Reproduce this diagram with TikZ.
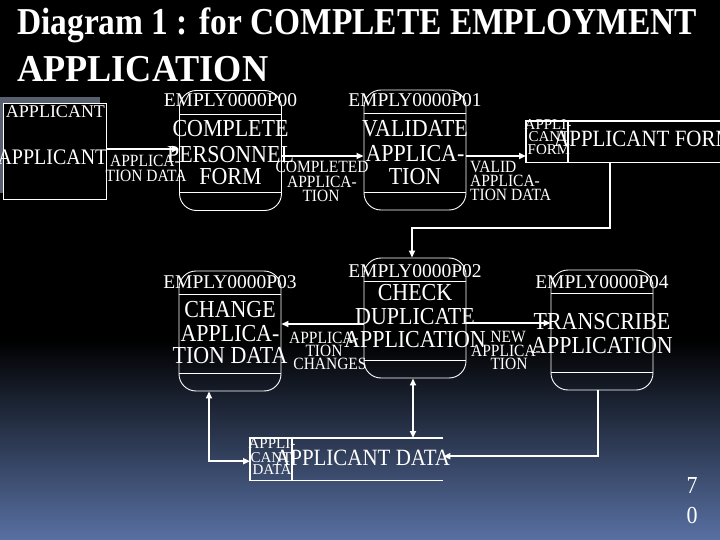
\documentclass[tikz,border=0pt]{standalone}
\usepackage{fontspec}
\setmainfont{Liberation Serif}
\newfontfamily\narrowserif{Liberation Serif}[FakeStretch=0.9]
\usepackage{graphicx}
\usetikzlibrary{arrows.meta}
\definecolor{bgbot}{RGB}{88,112,162}
\definecolor{shadowgray}{RGB}{88,96,112}
\begin{document}
\begin{tikzpicture}[x=1pt,y=-1pt,
  proc/.style={draw=white, line width=0.9pt, rounded corners=17pt, minimum width=102pt, minimum height=120pt, inner sep=0pt},
  entity/.style={draw=white, fill=black, line width=0.9pt, minimum width=103pt, minimum height=96pt, inner sep=0pt},
  store/.style={draw=none, inner sep=0pt, anchor=north west},
  divider/.style={draw=white, line width=0.9pt},
  storeline/.style={draw=white, line width=1.3pt},
  conn/.style={draw=white, line width=2pt},
  arr/.style={conn, -{Triangle[length=7pt,width=6pt]}},
  darr/.style={conn, {Triangle[length=7pt,width=6pt]}-{Triangle[length=7pt,width=6pt]}},
  txt/.style={text=white, inner sep=0pt, anchor=base},
  body/.style={txt, font=\narrowserif\fontsize{24.4}{26}\selectfont},
  pid/.style={txt, font=\fontsize{19.5}{20}\selectfont},
  small/.style={txt, font=\narrowserif\fontsize{17.2}{16}\selectfont},
  tiny/.style={txt, font=\fontsize{15}{14}\selectfont},
  big/.style={txt, anchor=base west, font=\narrowserif\fontsize{23.3}{24}\selectfont},
  title/.style={txt, anchor=base west, font=\bfseries\fontsize{38}{40}\selectfont}
]
\useasboundingbox (0,0) rectangle (720,540);
\fill[black] (0,0) rectangle (720,341);
\shade[top color=black, bottom color=bgbot] (0,340) rectangle (720,540);

% title
\node[title] (t1) at (17,35) {\resizebox{680pt}{\height}{Diagram 1 : for COMPLETE EMPLOYMENT}};
\node[title] (t2) at (17,82) {\resizebox{251pt}{\height}{APPLICATION}};

% external entity
\fill[shadowgray] (0,97) rectangle (100,193);
\node[entity] (ent) at (54.5,151) {};
\node[txt, font=\fontsize{18}{18}\selectfont] (entl) at (55.5,118) {APPLICANT};
\node[txt, font=\narrowserif\fontsize{22.2}{22}\selectfont] (entn) at (52.5,165) {APPLICANT};

% processes
\node[proc] (p00) at (230.5,150.5) {};
\node[proc] (p01) at (415,150) {};
\node[proc] (p02) at (415,318) {};
\node[proc] (p03) at (230,331) {};
\node[proc] (p04) at (602,330) {};
\foreach \p in {p00,p01,p02,p03,p04}{
  \draw[divider] ([yshift=-24pt]\p.north west) -- ([yshift=-24pt]\p.north east);
  \draw[divider] ([yshift=18pt]\p.south west) -- ([yshift=18pt]\p.south east);
}

\node[pid] (p00id) at (230.5,107) {EMPLY0000P00};
\node[body] (p00a) at (230.5,137) {COMPLETE};
\node[body] (p00b) at (230.5,163) {PERSONNEL};
\node[body] (p00c) at (230.5,185) {FORM};

\node[pid] (p01id) at (415,107) {EMPLY0000P01};
\node[body] (p01a) at (415,137) {VALIDATE};
\node[body] (p01b) at (415,162) {APPLICA-};
\node[body] (p01c) at (415,185) {TION};

\node[pid] (p02id) at (415,277) {EMPLY0000P02};
\node[body] (p02a) at (415,300) {CHECK};
\node[body] (p02b) at (415,324) {DUPLICATE};
\node[body] (p02c) at (415,347) {APPLICATION};

\node[pid] (p03id) at (230,288) {EMPLY0000P03};
\node[body] (p03a) at (230,317) {CHANGE};
\node[body] (p03b) at (230,341) {APPLICA-};
\node[body] (p03c) at (230,363) {TION DATA};

\node[pid] (p04id) at (602,288) {EMPLY0000P04};
\node[body] (p04a) at (602,329) {TRANSCRIBE};
\node[body] (p04b) at (602,353) {APPLICATION};

% data stores
\node[store, minimum width=234pt, minimum height=41pt] (sAF) at (526,121) {};
\draw[storeline] (sAF.north east) -- (sAF.north west) -- (sAF.south west) -- (sAF.south east);
\draw[storeline] ([xshift=42pt]sAF.north west) -- ([xshift=42pt]sAF.south west);
\node[big] (sAFn) at (554,147) {APPLICANT FORM};
\node[tiny] (sAFa) at (548,130) {APPLI-};
\node[tiny] (sAFb) at (549,142) {CANT};
\node[tiny] (sAFc) at (549,155) {FORM};

\node[store, minimum width=193pt, minimum height=42pt] (sAD) at (250,438) {};
\draw[storeline] (sAD.north east) -- (sAD.north west) -- (sAD.south west) -- (sAD.south east);
\draw[storeline] ([xshift=42pt]sAD.north west) -- ([xshift=42pt]sAD.south west);
\node[big] (sADn) at (275,465) {APPLICANT DATA};
\node[tiny] (sADa) at (272,448) {APPLI-};
\node[tiny] (sADb) at (271,462) {CANT};
\node[tiny] (sADc) at (272,474) {DATA};

% connectors
\draw[arr] ([yshift=2pt]ent.east) -- ([yshift=2pt]ent.east -| p00.west);
\draw[arr] ([yshift=-5.5pt]p00.east) -- ([yshift=-5.5pt]p00.east -| p01.west);
\draw[arr] ([yshift=-6pt]p01.east) -- ([yshift=-6pt]p01.east -| sAF.west);
\draw[arr] ([xshift=84pt]sAF.south west) -- ++(0,66) -| ([xshift=-3pt]p02.north);
\draw[arr] ([yshift=-6pt]p02.west) -- ([yshift=-6pt]p02.west -| p03.east);
\draw[arr] ([yshift=-5pt]p02.east) -- ([yshift=-5pt]p02.east -| p04.west);
\draw[darr] ([xshift=-21pt]p03.south) |- ([yshift=-2pt]sAD.west);
\draw[darr] ([xshift=-2pt]p02.south) -- ([xshift=-2pt]p02.south |- sAD.north);
\draw[arr] ([xshift=-4pt]p04.south) |- ([yshift=3pt]sAD.east);

% flow labels
\node[small] (l1a) at (145,167) {APPLICA-};
\node[small] (l1b) at (146,182) {TION DATA};
\node[small] (l2a) at (322,173) {COMPLETED};
\node[small] (l2b) at (322,188) {APPLICA-};
\node[small] (l2c) at (321,202) {TION};
\node[small, anchor=base west] (l3a) at (470,173) {VALID};
\node[small, anchor=base west] (l3b) at (470,187) {APPLICA-};
\node[small, anchor=base west] (l3c) at (470,201) {TION DATA};
\node[small] (l4a) at (324,343) {APPLICA-};
\node[small] (l4b) at (324,356) {TION};
\node[small] (l4c) at (330,369) {CHANGES};
\node[small] (l5a) at (508,342) {NEW};
\node[small] (l5b) at (506,356) {APPLICA-};
\node[small] (l5c) at (509,369) {TION};

% page number
\node[body] (pg1) at (692,493) {7};
\node[body] (pg2) at (692,523) {0};
\end{tikzpicture}
\end{document}
